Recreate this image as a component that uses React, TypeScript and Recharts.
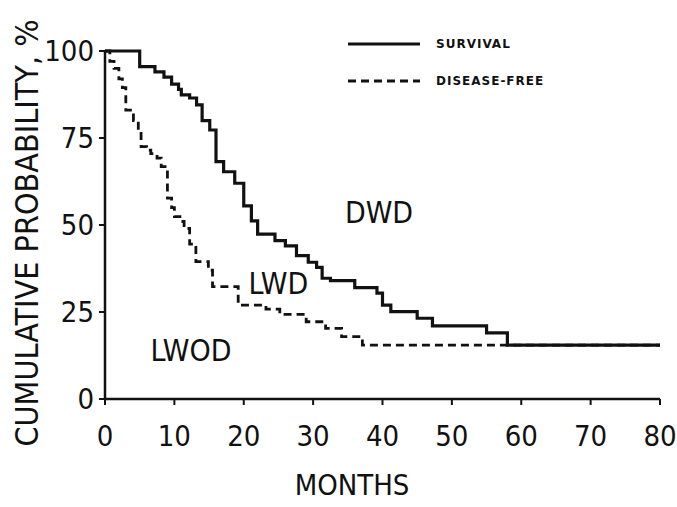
import { LineChart, Line, XAxis, YAxis, ReferenceDot, Label } from 'recharts'

// step events: month at which the curve drops, and the value after the drop
const survivalMonths = [0, 5, 7.2, 8.5, 9.6, 10.6, 11, 12.2, 13.2, 14, 15.1, 16, 17.1, 18.7, 20, 21.1, 22, 24.5, 26, 27.6, 29.3, 30.5, 31.3, 32.5, 36, 39.2, 40, 41.2, 45, 47.2, 55, 58, 80]
const survivalPct = [100, 95.5, 94, 92.5, 90.5, 89, 87.4, 86.5, 84.5, 80, 77.3, 68.2, 65.3, 62, 55.5, 51.2, 47.4, 45.5, 44, 41.2, 39.3, 37.8, 34.7, 34, 32, 30.4, 27, 25.1, 23.2, 21, 19, 15.5, 15.5]

const diseaseFreeMonths = [0, 0.7, 1.3, 2, 2.5, 3, 4.1, 4.8, 5.2, 6, 6.6, 7.5, 8.1, 9, 9.6, 10, 10.8, 11.4, 12.2, 13.1, 14.9, 15.5, 19.2, 23.2, 25.2, 29, 31.8, 34.1, 37.1, 80]
const diseaseFreePct = [100, 97, 95, 92, 89.5, 83, 80, 77, 72.5, 71.5, 70.5, 69.2, 66.8, 57.7, 55, 52.4, 51, 49, 44.5, 39.5, 37, 32.3, 27, 25.8, 24.3, 22.2, 20.3, 17.9, 15.5, 15.5]

const monthTicks = [0, 10, 20, 30, 40, 50, 60, 70, 80]
const pctTicks = [0, 25, 50, 75, 100]

const survival = survivalMonths.map((m, i) => ({ month: m, pct: survivalPct[i] }))
const diseaseFree = diseaseFreeMonths.map((m, i) => ({ month: m, pct: diseaseFreePct[i] }))

const FONT = "'DejaVu Sans Condensed', 'Liberation Sans Narrow', sans-serif"
const INK = '#111'

const YTitle = () => (
  <text
    x={27}
    y={233}
    transform="rotate(-90 27 233)"
    textAnchor="middle"
    dominantBaseline="central"
    fill={INK}
    fontFamily={FONT}
    fontSize={32}
  >
    CUMULATIVE PROBABILITY, %
  </text>
)

const XTitle = () => (
  <text x={352} y={495} textAnchor="middle" fill={INK} fontFamily={FONT} fontSize={29}>
    MONTHS
  </text>
)

const regionLabel = (value: string) => ({
  value,
  position: 'center' as const,
  fill: INK,
  fontFamily: FONT,
  fontSize: 30,
})

export default function App() {
  return (
    <div style={{ position: 'relative', width: 677, height: 507, background: '#fff' }}>
      <style>{'body{margin:0}'}</style>
      <LineChart width={677} height={507} margin={{ top: 51, right: 17, bottom: 0, left: 0 }}>
        <XAxis
          dataKey="month"
          type="number"
          domain={[0, 80]}
          ticks={monthTicks}
          allowDuplicatedCategory={false}
          height={108}
          axisLine={{ stroke: INK, strokeWidth: 2.5 }}
          tickLine={{ stroke: INK, strokeWidth: 2 }}
          tickSize={6}
          tickMargin={20}
          tick={{ fill: INK, fontFamily: FONT, fontSize: 29 }}
        >
          <Label content={XTitle} />
        </XAxis>
        <YAxis
          type="number"
          domain={[0, 100]}
          ticks={pctTicks}
          width={105}
          axisLine={{ stroke: INK, strokeWidth: 2.5 }}
          tickLine={{ stroke: INK, strokeWidth: 2 }}
          tickSize={6}
          tickMargin={5}
          tick={{ fill: INK, fontFamily: FONT, fontSize: 29 }}
        >
          <Label content={YTitle} />
        </YAxis>
        <Line
          data={diseaseFree}
          dataKey="pct"
          type="stepAfter"
          stroke={INK}
          strokeWidth={2.8}
          strokeDasharray="8 5"
          dot={false}
          isAnimationActive={false}
        />
        <Line
          data={survival}
          dataKey="pct"
          type="stepAfter"
          stroke={INK}
          strokeWidth={3.2}
          dot={false}
          isAnimationActive={false}
        />
        <ReferenceDot x={39.5} y={53.7} r={0} stroke="none" label={regionLabel('DWD')} />
        <ReferenceDot x={25} y={33.3} r={0} stroke="none" label={regionLabel('LWD')} />
        <ReferenceDot x={12.4} y={14} r={0} stroke="none" label={regionLabel('LWOD')} />
      </LineChart>

      <div style={{ position: 'absolute', left: 348, top: 34, fontFamily: "'DejaVu Sans', sans-serif", fontSize: 12, fontWeight: 'bold', color: INK }}>
        <div style={{ display: 'flex', alignItems: 'center', height: 20 }}>
          <svg width={72} height={6}>
            <line x1={0} y1={3} x2={72} y2={3} stroke={INK} strokeWidth={3} />
          </svg>
          <span style={{ marginLeft: 16, letterSpacing: 1 }}>SURVIVAL</span>
        </div>
        <div style={{ display: 'flex', alignItems: 'center', height: 20, marginTop: 17 }}>
          <svg width={72} height={6}>
            <line x1={0} y1={3} x2={72} y2={3} stroke={INK} strokeWidth={3} strokeDasharray="8 5" />
          </svg>
          <span style={{ marginLeft: 16, letterSpacing: 1 }}>DISEASE-FREE</span>
        </div>
      </div>
    </div>
  )
}
